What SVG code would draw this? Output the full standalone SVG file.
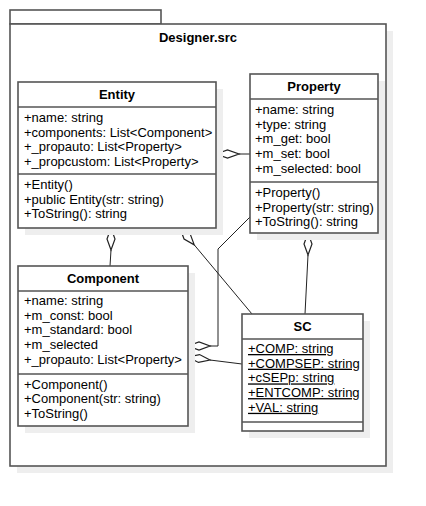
<svg xmlns="http://www.w3.org/2000/svg" width="426" height="506" viewBox="0 0 426 506">
<style>
.box{fill:#fff;stroke:#555;stroke-width:1.6}
.sh{fill:#eeeeee}
.ln{stroke:#555;stroke-width:1.6}
.t{font-family:"Liberation Sans",Arial,sans-serif;font-size:13px;fill:#000}
.h{font-family:"Liberation Sans",Arial,sans-serif;font-size:13px;font-weight:bold;fill:#000;text-anchor:middle}
.c{fill:none;stroke:#222;stroke-width:1}
.d{fill:#fff;stroke:#222;stroke-width:1.2}
.u{text-decoration:underline}
</style>
<rect width="426" height="506" fill="#fff"/>
<g id="package">
<rect class="sh" x="17" y="31" width="376" height="442"/>
<rect class="box" x="10" y="10" width="151" height="14"/>
<rect class="box" x="10" y="24" width="376" height="442"/>
<text class="h" x="198" y="42">Designer.src</text>
</g>
<g id="connectors">
<path class="d" d="M216,154 L227.5,150 L239,154 L227.5,158 Z"/>
<line class="c" x1="239" y1="154" x2="250" y2="154"/>
<path class="d" d="M111,228 L107,239 L111,250 L115,239 Z"/>
<line class="c" x1="111" y1="250" x2="110" y2="266"/>
<path class="d" d="M180,228 L184.05,239 L194.2,244.8 L190.15,233.8 Z"/>
<line class="c" x1="194.2" y1="244.8" x2="252" y2="314"/>
<path class="d" d="M308,233 L304,244 L308,255 L312,244 Z"/>
<line class="c" x1="308" y1="255" x2="305" y2="314"/>
<path class="d" d="M188,346 L199,342 L210,346 L199,350 Z"/>
<polyline class="c" points="210,346 218,346 218,249 250,217"/>
<path class="d" d="M188,357 L198.46,362.46 L210,360 L199.54,354.54 Z"/>
<line class="c" x1="210" y1="360" x2="242" y2="364"/>
</g>
<g id="Entity">
<rect class="sh" x="25" y="89" width="198" height="146"/>
<rect class="box" x="18" y="82" width="198" height="146"/>
<line class="ln" x1="18" y1="107" x2="216" y2="107"/>
<line class="ln" x1="18" y1="174" x2="216" y2="174"/>
<text class="h" x="117" y="99">Entity</text>
<text class="t" x="24" y="122">+name: string</text>
<text class="t" x="24" y="136.5">+components: List&lt;Component&gt;</text>
<text class="t" x="24" y="151">+_propauto: List&lt;Property&gt;</text>
<text class="t" x="24" y="165.5">+_propcustom: List&lt;Property&gt;</text>
<text class="t" x="24" y="189">+Entity()</text>
<text class="t" x="24" y="203.5">+public Entity(str: string)</text>
<text class="t" x="24" y="218">+ToString(): string</text>
</g>
<g id="Property">
<rect class="sh" x="257" y="81" width="128" height="159"/>
<rect class="box" x="250" y="74" width="128" height="159"/>
<line class="ln" x1="250" y1="99" x2="378" y2="99"/>
<line class="ln" x1="250" y1="182" x2="378" y2="182"/>
<text class="h" x="314" y="91">Property</text>
<text class="t" x="255" y="114">+name: string</text>
<text class="t" x="255" y="128.7">+type: string</text>
<text class="t" x="255" y="143.4">+m_get: bool</text>
<text class="t" x="255" y="158.1">+m_set: bool</text>
<text class="t" x="255" y="172.8">+m_selected: bool</text>
<text class="t" x="255" y="197">+Property()</text>
<text class="t" x="255" y="211.7">+Property(str: string)</text>
<text class="t" x="255" y="226.4">+ToString(): string</text>
</g>
<g id="Component">
<rect class="sh" x="25" y="273" width="170" height="160"/>
<rect class="box" x="18" y="266" width="170" height="160"/>
<line class="ln" x1="18" y1="291" x2="188" y2="291"/>
<line class="ln" x1="18" y1="374" x2="188" y2="374"/>
<text class="h" x="103" y="283">Component</text>
<text class="t" x="24" y="305">+name: string</text>
<text class="t" x="24" y="319.7">+m_const: bool</text>
<text class="t" x="24" y="334.4">+m_standard: bool</text>
<text class="t" x="24" y="349.1">+m_selected</text>
<text class="t" x="24" y="363.8">+_propauto: List&lt;Property&gt;</text>
<text class="t" x="24" y="388.5">+Component()</text>
<text class="t" x="24" y="403.2">+Component(str: string)</text>
<text class="t" x="24" y="417.9">+ToString()</text>
</g>
<g id="SC">
<rect class="sh" x="249" y="321" width="121" height="117"/>
<rect class="box" x="242" y="314" width="121" height="117"/>
<line class="ln" x1="242" y1="339" x2="363" y2="339"/>
<line class="ln" x1="242" y1="422" x2="363" y2="422"/>
<text class="h" x="302.5" y="331">SC</text>
<text class="t u" x="248" y="353">+COMP: string</text>
<text class="t u" x="248" y="367.7">+COMPSEP: string</text>
<text class="t u" x="248" y="382.4">+cSEPp: string</text>
<text class="t u" x="248" y="397.1">+ENTCOMP: string</text>
<text class="t u" x="248" y="411.8">+VAL: string</text>
</g>
</svg>
